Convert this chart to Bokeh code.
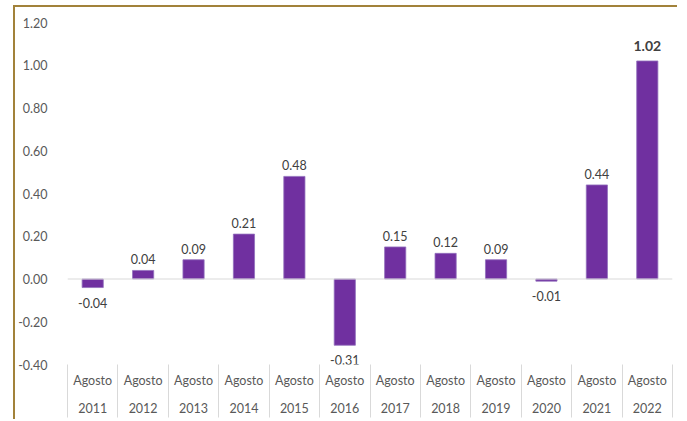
from bokeh.plotting import figure
from bokeh.models import (ColumnDataSource, Range1d, FixedTicker, Span,
                          NumeralTickFormatter, LabelSet)
from bokeh.core.properties import value
from bokeh.embed import file_html
from bokeh.resources import INLINE

# ---- data ----
months = ["Agosto"] * 12
years = ["2011", "2012", "2013", "2014", "2015", "2016",
         "2017", "2018", "2019", "2020", "2021", "2022"]
values = [-0.04, 0.04, 0.09, 0.21, 0.48, -0.31,
          0.15, 0.12, 0.09, -0.01, 0.44, 1.02]
y_ticks = [-0.40, -0.20, 0.00, 0.20, 0.40, 0.60, 0.80, 1.00, 1.20]

FONT = "Lato"
PURPLE = "#7030A0"
EDGE = "#9270bd"
GRID = "#d9d9d9"
BORDER = "#a2823a"

n = len(years)
xs = [i + 0.5 for i in range(n)]
labels = [f"{v:.2f}" for v in values]

pos_idx = [i for i, v in enumerate(values) if v >= 0 and i != n - 1]
neg_idx = [i for i, v in enumerate(values) if v < 0]
last = [n - 1]


def sub(idx):
    return ColumnDataSource(dict(x=[xs[i] for i in idx],
                                 y=[values[i] for i in idx],
                                 lab=[labels[i] for i in idx]))


src = ColumnDataSource(dict(x=xs, top=values))

p = figure(width=664, height=414, output_backend="svg", toolbar_location=None,
           x_range=Range1d(0, n), y_range=Range1d(y_ticks[0], y_ticks[-1]),
           min_border_left=51, min_border_right=7, min_border_top=15,
           min_border_bottom=57)
p.styles = {"border-left": f"2px solid {BORDER}",
            "border-top": f"2px solid {BORDER}",
            "margin-left": "13px",
            "margin-top": "5px"}
p.outline_line_color = None
p.background_fill_color = "white"
p.border_fill_color = "white"
p.xgrid.visible = False
p.ygrid.visible = False

p.vbar(x="x", top="top", bottom=0, width=0.42, source=src,
       fill_color=PURPLE, line_color=EDGE, line_width=0.8)

p.add_layout(Span(location=0, dimension="width", line_color=GRID, line_width=1))

# data labels
p.add_layout(LabelSet(x="x", y="y", text="lab", source=sub(pos_idx),
                      text_align="center", text_baseline="bottom", y_offset=6,
                      text_font=value(FONT), text_font_size="12.5px",
                      text_color="#404040"))
p.add_layout(LabelSet(x="x", y="y", text="lab", source=sub(neg_idx),
                      text_align="center", text_baseline="top", y_offset=-10,
                      text_font=value(FONT), text_font_size="12.5px",
                      text_color="#404040"))
p.add_layout(LabelSet(x="x", y="y", text="lab", source=sub(last),
                      text_align="center", text_baseline="bottom", y_offset=10,
                      text_font=value(FONT), text_font_size="14px",
                      text_font_style="bold", text_color="#404040"))

# y axis
ya = p.yaxis[0]
ya.ticker = FixedTicker(ticks=y_ticks)
ya.formatter = NumeralTickFormatter(format="0.00")
ya.axis_line_color = None
ya.major_tick_line_color = None
ya.minor_tick_line_color = None
ya.major_label_standoff = 14
ya.major_label_text_font = FONT
ya.major_label_text_font_size = "12.5px"
ya.major_label_text_color = "#595959"

# x axis
xa = p.xaxis[0]
xa.ticker = FixedTicker(ticks=xs, minor_ticks=list(range(n + 1)))
xa.major_label_overrides = {x: f"{m}\n{y}" for x, m, y in zip(xs, months, years)}
xa.axis_line_color = None
xa.major_tick_line_color = None
xa.major_tick_out = 0
xa.minor_tick_line_color = GRID
xa.minor_tick_line_width = 1
xa.minor_tick_in = 0
xa.minor_tick_out = 53
xa.major_label_standoff = -45
xa.major_label_text_font = FONT
xa.major_label_text_font_size = "12.5px"
xa.major_label_text_color = "#595959"
xa.major_label_text_line_height = 1.9

open("out.html", "w").write(file_html(p, INLINE))
